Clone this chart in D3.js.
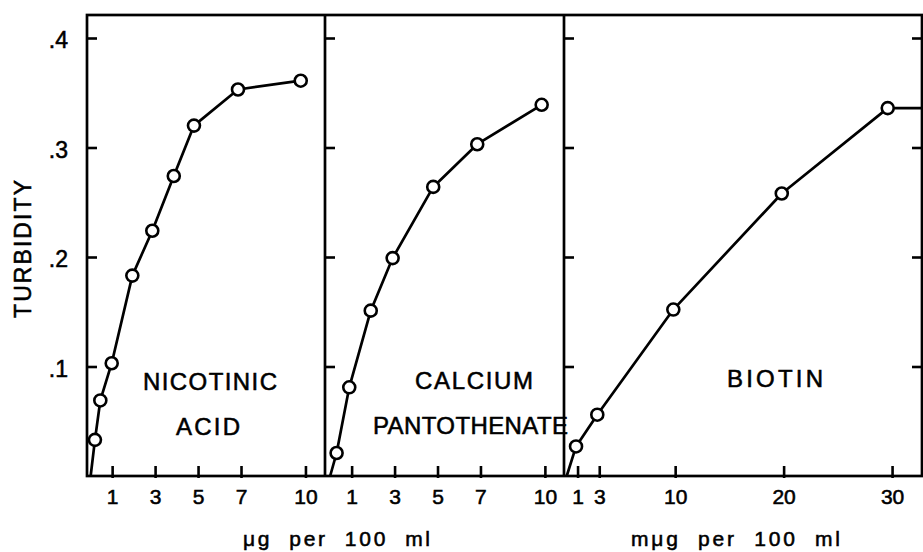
<!DOCTYPE html>
<html>
<head>
<meta charset="utf-8">
<script src="https://cdn.jsdelivr.net/npm/d3@7"></script>
<style>
  html, body { margin: 0; padding: 0; background: #fff; }
  svg { display: block; font-family: "Liberation Sans", Arial, sans-serif; }
  svg text { fill: #000; stroke: #000; stroke-width: 0.55px; }
</style>
</head>
<body>
<svg id="chart" width="923" height="552"></svg>
<script>
// ---------------- DATA ----------------
const yTickValues = [0.1, 0.2, 0.3, 0.4];
const yLabel = "TURBIDITY";

// Panel 1: Nicotinic acid (µg per 100 ml)
const nicotinicX = [0.2, 0.45, 0.98, 1.94, 2.87, 3.87, 4.81, 6.86, 9.78];
const nicotinicY = [0.033, 0.069, 0.103, 0.183, 0.224, 0.274, 0.320, 0.353, 0.361];

// Panel 2: Calcium pantothenate (µg per 100 ml)
const pantoX = [0.30, 0.89, 1.89, 2.91, 4.80, 6.85, 9.85];
const pantoY = [0.021, 0.081, 0.151, 0.199, 0.264, 0.303, 0.339];

// Panel 3: Biotin (mµg per 100 ml)
const biotinX = [0.86, 2.82, 9.83, 19.83, 29.6];
const biotinY = [0.027, 0.056, 0.152, 0.258, 0.336];
const biotinTailX = 32.8;   // line continues flat to the frame

const ugTicks = [1, 3, 5, 7, 10];
const mugTicks = [1, 3, 10, 20, 30];

const panelNames = [["NICOTINIC", "ACID"], ["CALCIUM", "PANTOTHENATE"], ["BIOTIN"]];
const axisTitles = ["\u03bcg  per  100  ml", "m\u03bcg  per  100  ml"];

// ---------------- LAYOUT ----------------
const svg = d3.select("#chart");
const plotTop = 15, plotBottom = 476;
const edges = [87, 325, 564, 922];
const frameW = 2.7;

const y = d3.scaleLinear().domain([0, 0.4]).range([plotBottom, 38]);

const panels = [
  { xs: nicotinicX, ys: nicotinicY, domain: [-0.17, 10.91], ticks: ugTicks, tail: null },
  { xs: pantoX, ys: pantoY, domain: [-0.24, 10.89], ticks: ugTicks, tail: null },
  { xs: biotinX, ys: biotinY, domain: [-0.25, 32.76], ticks: mugTicks, tail: biotinTailX }
];

panels.forEach((p, i) => {
  p.x = d3.scaleLinear().domain(p.domain).range([edges[i], edges[i + 1]]);
});

// frame
const frame = svg.append("g").attr("stroke", "#000").attr("stroke-width", frameW).attr("fill", "none");
frame.append("rect").attr("x", edges[0]).attr("y", plotTop)
  .attr("width", edges[3] - edges[0]).attr("height", plotBottom - plotTop);
[edges[1], edges[2]].forEach(e => {
  frame.append("line").attr("x1", e).attr("x2", e).attr("y1", plotTop).attr("y2", plotBottom);
});

// y ticks on each panel's left border (inward) and on the far right (inward)
[edges[0], edges[1], edges[2]].forEach(e => {
  const g = svg.append("g").attr("transform", `translate(${e},0)`)
    .call(d3.axisRight(y).tickValues(yTickValues).tickSize(10).tickFormat(""));
  g.select(".domain").remove();
  g.selectAll(".tick line").attr("stroke", "#000").attr("stroke-width", 2.6);
});
{
  const g = svg.append("g").attr("transform", `translate(${edges[3]},0)`)
    .call(d3.axisLeft(y).tickValues(yTickValues).tickSize(10).tickFormat(""));
  g.select(".domain").remove();
  g.selectAll(".tick line").attr("stroke", "#000").attr("stroke-width", 2.6);
}

// y tick labels
{
  const g = svg.append("g").attr("transform", `translate(${edges[0]},0)`)
    .call(d3.axisLeft(y).tickValues(yTickValues).tickSize(0).tickPadding(19)
      .tickFormat(d => d3.format(".1f")(d).replace(/^0/, "")));
  g.select(".domain").remove();
  g.selectAll("text").attr("font-size", 23)
    .attr("font-family", "'Liberation Sans', Arial, sans-serif").attr("dy", "0.42em");
}

// y title
svg.append("text")
  .attr("transform", "translate(31,249) rotate(-90)")
  .attr("text-anchor", "middle")
  .attr("font-size", 23)
  .attr("textLength", 138).attr("lengthAdjust", "spacing")
  .text(yLabel);

// x axes, ticks and data
const line = d3.line();
panels.forEach((p, i) => {
  const g = svg.append("g").attr("transform", `translate(0,${plotBottom})`)
    .call(d3.axisBottom(p.x).tickValues(p.ticks).tickSizeInner(-10).tickSizeOuter(0).tickPadding(13)
      .tickFormat(d3.format("d")));
  g.select(".domain").remove();
  g.selectAll(".tick line").attr("stroke", "#000").attr("stroke-width", 2.6).attr("y2", -10).attr("y1", 2);
  g.selectAll("text").attr("font-size", 21)
    .attr("font-family", "'Liberation Sans', Arial, sans-serif");

  const pts = [[p.x(0), y(0)]].concat(p.xs.map((v, k) => [p.x(v), y(p.ys[k])]));
  if (p.tail !== null) pts.push([p.x(p.tail), y(p.ys[p.ys.length - 1])]);
  svg.append("path").attr("d", line(pts)).attr("fill", "none")
    .attr("stroke", "#000").attr("stroke-width", 2.7).attr("stroke-linejoin", "round");

  svg.append("g").selectAll("circle").data(p.xs).join("circle")
    .attr("cx", d => p.x(d)).attr("cy", (d, k) => y(p.ys[k]))
    .attr("r", 6).attr("fill", "#fff").attr("stroke", "#000").attr("stroke-width", 2.6);
});

// panel names
const nameLayout = [
  [{ cx: 210, y: 390, w: 134 }, { cx: 208, y: 435, w: 64 }],
  [{ cx: 474, y: 389, w: 118 }, { cx: 470.5, y: 434, w: 195 }],
  [{ cx: 775, y: 387, w: 96 }]
];
panelNames.forEach((lines, i) => {
  lines.forEach((t, j) => {
    const L = nameLayout[i][j];
    svg.append("text").attr("x", L.cx).attr("y", L.y)
      .attr("text-anchor", "middle").attr("font-size", 24)
      .attr("textLength", L.w).attr("lengthAdjust", "spacing")
      .text(t);
  });
});

// axis titles
const titleLayout = [{ cx: 336.5, w: 187 }, { cx: 735.5, w: 209 }];
axisTitles.forEach((t, i) => {
  svg.append("text").attr("x", titleLayout[i].cx).attr("y", 546)
    .attr("text-anchor", "middle").attr("font-size", 21)
    .attr("textLength", titleLayout[i].w).attr("lengthAdjust", "spacing")
    .attr("xml:space", "preserve").style("white-space", "pre")
    .text(t);
});
</script>
</body>
</html>
